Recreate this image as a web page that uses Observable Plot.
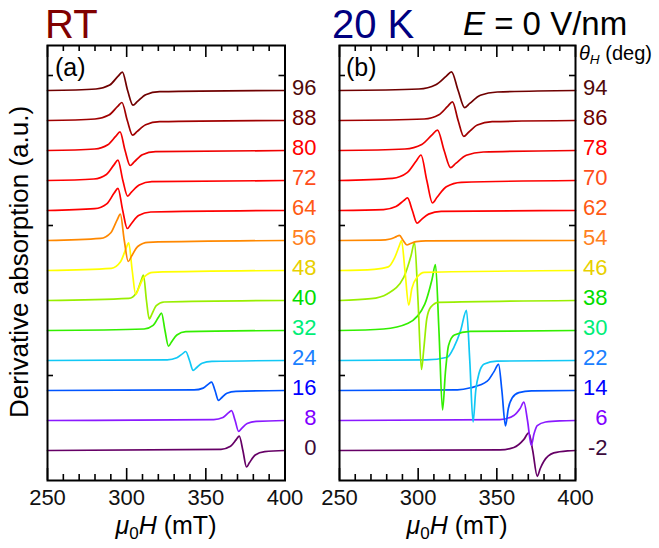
<!DOCTYPE html>
<html><head><meta charset="utf-8">
<script src="https://cdn.jsdelivr.net/npm/d3@7"></script>
<script src="https://cdn.jsdelivr.net/npm/@observablehq/plot@0.6"></script>
<style>
body{margin:0;background:#fff;font-family:"Liberation Sans",Arial,sans-serif;}
#wrap{position:relative;width:659px;height:548px;overflow:hidden;background:#fff;}
#wrap svg{position:absolute;left:0;top:0;}
.t{position:absolute;white-space:nowrap;line-height:1;font-family:"Liberation Sans",Arial,sans-serif;}
.sub{font-size:0.68em;position:relative;top:0.32em;}
</style></head><body><div id="wrap">
<div class="t" style="left:45px;top:4px;font-size:40px;color:#800000">RT</div>
<div class="t" style="left:332px;top:4px;font-size:40px;color:#000080">20 K</div>
<div class="t" style="left:463px;top:7px;font-size:33px;color:#000"><i>E</i> = 0 V/nm</div>
<div class="t" style="left:579px;top:43px;font-size:20px;color:#000"><i>θ</i><span class="sub"><i>H</i></span> (deg)</div>
<div class="t" style="left:55px;top:55px;font-size:25px;color:#000">(a)</div>
<div class="t" style="left:346px;top:55px;font-size:25px;color:#000">(b)</div>
<div class="t" style="left:-181px;top:249px;width:400px;text-align:center;font-size:26px;color:#000;transform:rotate(-90deg);transform-origin:center">Derivative absorption (a.u.)</div>
<div class="t" style="left:66px;top:513px;width:200px;text-align:center;font-size:25px;color:#000"><i>μ</i><span class="sub">0</span><i>H</i> (mT)</div>
<div class="t" style="left:357px;top:513px;width:200px;text-align:center;font-size:25px;color:#000"><i>μ</i><span class="sub">0</span><i>H</i> (mT)</div>
</div>
<script>
// x-axis tick values (mT)
const majorTicks = [250, 300, 350, 400];
const minorTicks = [260, 270, 280, 290, 310, 320, 330, 340, 360, 370, 380, 390];
const yTicks = [2.5, 7.5, 12.5];

// angle labels, bottom (index 0) to top (index 12)
const anglesRT = [0, 8, 16, 24, 32, 40, 48, 56, 64, 72, 80, 88, 96];
const angles20K = [-2, 6, 14, 22, 30, 38, 46, 54, 62, 70, 78, 86, 94];

const curveColors = ["#660066", "#8a1aff", "#0055ff", "#11c8f5", "#33ee00", "#99ee00", "#ffff00", "#ff8800", "#ff0000", "#ff0000", "#f00000", "#a00000", "#700000"];
const labelColors = ["#3c0a3c", "#8000ff", "#0000ff", "#1a80ff", "#00ee77", "#00dd00", "#e8d000", "#ff8020", "#ff5a14", "#ff4d1a", "#ff0000", "#700000", "#500a0a"];

// RT spectra: [field (mT), signal (a.u.)] key points
const rt0  = [[250,0],[359.6,0.04],[365.6,0.14],[369.3,0.37],[371.1,0.48],[373.4,0],[375.7,-0.55],[377.5,-0.41],[381.2,-0.15],[387.2,-0.04],[400,0]];
const rt8  = [[250,0],[355,0.03],[360.8,0.1],[364.4,0.26],[366.2,0.33],[368.5,0],[370.7,-0.36],[372.5,-0.27],[376.1,-0.1],[382,-0.03],[400,0]];
const rt16 = [[250,0],[342.6,0.02],[348.3,0.08],[351.8,0.22],[353.6,0.28],[355.8,0],[358,-0.33],[359.8,-0.25],[363.3,-0.09],[369,-0.03],[400,0]];
const rt24 = [[250,0],[325.6,0.02],[331.7,0.09],[335.4,0.23],[337.3,0.3],[339.7,0],[342,-0.33],[343.9,-0.25],[347.6,-0.09],[353.8,-0.03],[400,0]];
const rt32 = [[250,0],[311,0.05],[316.7,0.17],[320.2,0.45],[322,0.58],[324.2,0],[326.4,-0.52],[328.2,-0.39],[331.7,-0.15],[337.4,-0.04],[400,0]];
const rt40 = [[250,0],[301.4,0.07],[306.2,0.26],[309.1,0.66],[310.6,0.85],[312.5,0],[314.3,-0.62],[315.8,-0.47],[318.7,-0.17],[323.6,-0.05],[400,0]];
const rt48 = [[250,0],[290.3,0.07],[296,0.28],[299.5,0.72],[301.3,0.92],[303.5,0],[305.7,-0.8],[307.5,-0.6],[311,-0.22],[316.7,-0.06],[400,0]];
const rt56 = [[250,0],[283.5,0.07],[290,0.26],[294,0.69],[296,0.88],[298.5,0],[301,-0.7],[303,-0.53],[307,-0.2],[313.5,-0.06],[400,0]];
const rt64 = [[250,0],[279.8,0.06],[287.4,0.22],[292.1,0.58],[294.5,0.74],[297.5,0],[300.4,-0.6],[302.8,-0.45],[307.5,-0.17],[315.2,-0.05],[400,0]];
const rt72 = [[250,0],[279.3,0.05],[287.2,0.2],[292.1,0.53],[294.5,0.68],[297.6,0],[300.6,-0.52],[303,-0.39],[307.9,-0.15],[315.9,-0.04],[400,0]];
const rt80 = [[250,0],[279.8,0.05],[288.1,0.19],[293.2,0.48],[295.8,0.62],[299,0],[302.2,-0.5],[304.8,-0.38],[309.9,-0.14],[318.2,-0.04],[400,0]];
const rt88 = [[250,0],[280,0.05],[288.8,0.18],[294.3,0.47],[297,0.6],[300.4,0],[303.8,-0.49],[306.5,-0.37],[312,-0.14],[320.8,-0.04],[400,0]];
const rt96 = [[250,0],[280.6,0.05],[289.3,0.18],[294.6,0.48],[297.3,0.61],[300.6,0],[304,-0.49],[306.7,-0.37],[312,-0.14],[320.8,-0.04],[400,0]];

// 20 K spectra
const k20m2 = [[250,0],[352,0.02],[360.8,0.1],[367.2,0.37],[370.3,0.59],[372.8,0],[375.7,-0.86],[377.6,-0.6],[379.9,-0.36],[386.2,-0.08],[395,-0.01],[400,0]];
const k20_6 = [[250,0],[352,0.03],[360.8,0.17],[364.8,0.4],[367.2,0.61],[369.5,0],[371.9,-0.83],[373.6,-0.45],[375.7,-0.17],[381,-0.05],[390,-0.01],[400,0]];
const k20_14 = [[250,0],[325,0.02],[333.3,0.09],[343.9,0.31],[348.1,0.62],[351.1,0.87],[353.2,0],[355.5,-1.18],[357.3,-0.6],[359.8,-0.24],[364,-0.07],[372,-0.01],[400,0]];
const k20_22 = [[250,0],[305,0.02],[318.5,0.11],[322.7,0.44],[327,1.0],[330.7,1.67],[332.8,0],[334.9,-2.05],[336.6,-1.0],[338.6,-0.44],[342,-0.12],[350,-0.02],[400,0]];
const k20_30 = [[250,0],[278,0.05],[293.6,0.24],[304.2,0.88],[308.8,1.7],[311,2.2],[313.2,0],[315.5,-2.65],[317.3,-1.4],[319.3,-0.5],[323,-0.15],[333,-0.03],[400,0]];
const k20_38 = [[250,0],[270,0.06],[280.3,0.22],[290.9,0.78],[295.5,1.5],[297.7,1.94],[299.9,0],[302.1,-2.3],[303.6,-1.6],[305.5,-0.6],[308,-0.22],[313,-0.06],[400,0]];
const k20_46 = [[250,0],[272,0.04],[281,0.12],[285,0.42],[288,0.82],[289.4,1.0],[291.6,0],[294,-1.15],[296,-0.6],[299.4,-0.22],[304,-0.06],[400,0]];
const k20_54 = [[250,0],[276.1,0.01],[282.3,0.05],[286.2,0.13],[288.1,0.17],[290.5,0],[292.9,-0.15],[294.8,-0.11],[298.7,-0.04],[304.9,-0.01],[400,0]];
const k20_62 = [[250,0],[278,0.03],[285.9,0.13],[290.8,0.33],[293.2,0.42],[296.3,0],[299.3,-0.42],[301.7,-0.32],[306.6,-0.12],[314.6,-0.03],[400,0]];
const k20_70 = [[250,0],[283.6,0.07],[293,0.26],[298.9,0.66],[301.8,0.85],[305.5,0],[309.1,-0.75],[312,-0.56],[317.9,-0.21],[327.4,-0.06],[400,0]];
const k20_78 = [[250,0],[291.6,0.05],[302.3,0.2],[309,0.53],[312.3,0.68],[316.5,0],[320.6,-0.57],[323.9,-0.43],[330.6,-0.16],[341.4,-0.05],[400,0]];
const k20_86 = [[250,0],[303.8,0.05],[313.2,0.19],[318.9,0.48],[321.8,0.62],[325.4,0],[329,-0.53],[331.9,-0.4],[337.6,-0.15],[347,-0.04],[400,0]];
const k20_94 = [[250,0],[300.5,0.05],[311.2,0.19],[317.9,0.48],[321.2,0.62],[325.4,0],[329.5,-0.57],[332.8,-0.43],[339.5,-0.16],[350.3,-0.05],[400,0]];

const curvesRT = [rt0, rt8, rt16, rt24, rt32, rt40, rt48, rt56, rt64, rt72, rt80, rt88, rt96];
const curves20K = [k20m2, k20_6, k20_14, k20_22, k20_30, k20_38, k20_46, k20_54, k20_62, k20_70, k20_78, k20_86, k20_94];

const H = 548, MT = 45, MB = 68, FH = H - MT - MB;
const yDomain = [-1, 13.5];

function panel(curves, angles, marginLeft, marginRight, labelDx) {
  const FW = 659 - marginLeft - marginRight;
  const rows = [];
  curves.forEach((pts, k) => pts.forEach(([h, v]) => rows.push({h, y: k + v, k, c: curveColors[k]})));
  const labs = angles.map((a, k) => ({k, a, c: labelColors[k]}));
  const tk = {stroke: "#000", strokeWidth: 1.6};
  return Plot.plot({
    width: 659, height: H,
    marginLeft, marginRight, marginTop: MT, marginBottom: MB,
    x: {domain: [250, 400]},
    y: {domain: yDomain, axis: null},
    color: {type: "identity"},
    style: {background: "transparent", fontFamily: "'Liberation Sans', Arial, sans-serif", overflow: "visible", color: "#000"},
    marks: [
      Plot.line(rows, {x: "h", y: "y", z: "k", stroke: "c", strokeWidth: 1.7, curve: "monotone-x"}),
      // inward ticks anchored on the frame edges
      Plot.ruleX(majorTicks, {x: d => d, insetTop: FH - 12, ...tk}),
      Plot.ruleX(majorTicks, {x: d => d, insetBottom: FH - 12, ...tk}),
      Plot.ruleX(minorTicks, {x: d => d, insetTop: FH - 6, ...tk}),
      Plot.ruleX(minorTicks, {x: d => d, insetBottom: FH - 6, ...tk}),
      Plot.ruleY(yTicks, {y: d => d, insetRight: FW - 6, ...tk}),
      Plot.ruleY(yTicks, {y: d => d, insetLeft: FW - 6, ...tk}),
      Plot.axisX({anchor: "bottom", ticks: majorTicks, tickSize: 0, tickPadding: 9, fontSize: 22, label: null, fill: "#111"}),
      Plot.frame({stroke: "black", strokeWidth: 2}),
      Plot.text(labs, {y: "k", text: d => String(d.a), frameAnchor: "right", dx: labelDx, dy: -3, textAnchor: "end", fill: "c", fontSize: 22})
    ]
  });
}

const wrap = document.getElementById("wrap");
wrap.appendChild(panel(curvesRT, anglesRT, 47, 374.5, 31.5));
wrap.appendChild(panel(curves20K, angles20K, 339, 84, 32));
</script>
</body></html>
